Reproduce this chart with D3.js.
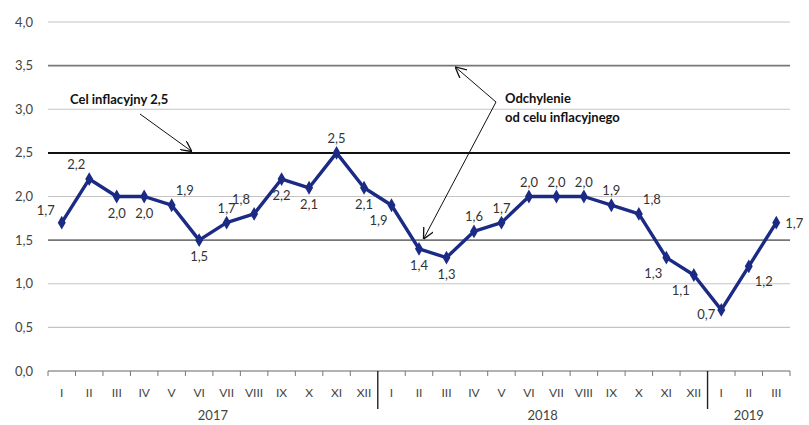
<!DOCTYPE html>
<html>
<head>
<meta charset="utf-8">
<script src="https://cdn.jsdelivr.net/npm/d3@7"></script>
<style>
  body { margin: 0; background: #fff; }
  text { font-family: Lato, "Open Sans", sans-serif; }
</style>
</head>
<body>
<script>
var months = ["I", "II", "III", "IV", "V", "VI", "VII", "VIII", "IX", "X", "XI", "XII",
              "I", "II", "III", "IV", "V", "VI", "VII", "VIII", "IX", "X", "XI", "XII",
              "I", "II", "III"];
var years = ["2017", "2018", "2019"];
var yearOf = [0,0,0,0,0,0,0,0,0,0,0,0, 1,1,1,1,1,1,1,1,1,1,1,1, 2,2,2];
var cpi = [1.7, 2.2, 2.0, 2.0, 1.9, 1.5, 1.7, 1.8, 2.2, 2.1, 2.5, 2.1,
           1.9, 1.4, 1.3, 1.6, 1.7, 2.0, 2.0, 2.0, 1.9, 1.8, 1.3, 1.1,
           0.7, 1.2, 1.7];
var yTicks = [0, 0.5, 1, 1.5, 2, 2.5, 3, 3.5, 4];
// where each value label sits relative to its point
var labelPos = ["l", "al", "b", "b", "ar", "b", "a", "al", "b", "b", "a", "b",
                "bl", "b", "b", "a", "a", "a", "a", "a", "a", "ar", "bl", "bl",
                "lb", "br", "r"];

var w = 809, h = 425;
var margin = {top: 22, right: 19, bottom: 54, left: 48};

var svg = d3.select("body").append("svg")
    .attr("width", w)
    .attr("height", h);

var idx = d3.range(cpi.length);
var x = d3.scaleBand()
    .domain(idx)
    .range([margin.left, w - margin.right]);
var y = d3.scaleLinear()
    .domain([0, 4])
    .range([h - margin.bottom, margin.top]);

var fmt = function (d) { return d3.format(".1f")(d).replace(".", ","); };

// grid
svg.selectAll("line.grid")
    .data(yTicks.filter(function (d) { return d > 0; }))
    .enter()
    .append("line")
    .attr("class", "grid")
    .attr("x1", margin.left)
    .attr("x2", w - margin.right)
    .attr("y1", function (d) { return y(d); })
    .attr("y2", function (d) { return y(d); })
    .attr("stroke", function (d) {
        if (d === 2.5) return "#111";
        if (d === 3.5 || d === 1.5) return "#777";
        return "#c4c4c4";
    })
    .attr("stroke-width", function (d) {
        if (d === 2.5) return 2;
        if (d === 3.5 || d === 1.5) return 1.6;
        return 1.2;
    });

// y labels
svg.selectAll("text.ylab")
    .data(yTicks)
    .enter()
    .append("text")
    .attr("class", "ylab")
    .attr("x", 33)
    .attr("y", function (d) { return y(d) + 4.5; })
    .attr("text-anchor", "end")
    .attr("font-size", "13px")
    .attr("fill", "#444")
    .text(fmt);

// x axis
var xAxis = svg.append("g")
    .attr("transform", "translate(0," + y(0) + ")");
xAxis.append("line")
    .attr("x1", margin.left)
    .attr("x2", w - margin.right)
    .attr("stroke", "#666")
    .attr("stroke-width", 1.2);
var isBreak = function (i) { return i > 0 && i < cpi.length && yearOf[i] !== yearOf[i - 1]; };
xAxis.selectAll("line.tick")
    .data(d3.range(cpi.length + 1))
    .enter()
    .append("line")
    .attr("x1", function (i) { return margin.left + i * x.step(); })
    .attr("x2", function (i) { return margin.left + i * x.step(); })
    .attr("y1", 0)
    .attr("y2", function (i) { return isBreak(i) ? 38 : 5; })
    .attr("stroke", function (i) { return isBreak(i) ? "#222" : "#777"; })
    .attr("stroke-width", function (i) { return isBreak(i) ? 1.4 : 1; });

xAxis.selectAll("text.month")
    .data(idx)
    .enter()
    .append("text")
    .attr("x", function (i) { return x(i) + x.bandwidth() / 2; })
    .attr("y", 26)
    .attr("text-anchor", "middle")
    .attr("font-size", "12px")
    .attr("fill", "#444")
    .text(function (i) { return months[i]; });

xAxis.selectAll("text.year")
    .data(years)
    .enter()
    .append("text")
    .attr("x", function (d, k) {
        var members = idx.filter(function (i) { return yearOf[i] === k; });
        return (x(members[0]) + x(members[members.length - 1]) + x.bandwidth()) / 2;
    })
    .attr("y", 49)
    .attr("text-anchor", "middle")
    .attr("font-size", "13px")
    .attr("fill", "#444")
    .text(function (d) { return d; });

// series
var cx = function (i) { return x(i) + x.bandwidth() / 2; };
var line = d3.line()
    .x(function (d, i) { return cx(i); })
    .y(function (d) { return y(d); });

svg.append("path")
    .datum(cpi)
    .attr("d", line)
    .attr("fill", "none")
    .attr("stroke", "#1b2a84")
    .attr("stroke-width", 3.4)
    .attr("stroke-linejoin", "round");

svg.selectAll("path.mark")
    .data(cpi)
    .enter()
    .append("path")
    .attr("d", d3.symbol().type(d3.symbolDiamond).size(55))
    .attr("transform", function (d, i) { return "translate(" + cx(i) + "," + y(d) + ")"; })
    .attr("fill", "#1b2a84");

var offs = {
    a: [0, -10, "middle"], b: [0, 21, "middle"],
    l: [-7, -8, "end"], r: [9, 5, "start"], lb: [-6, 9, "end"],
    al: [-4, -10, "end"], ar: [4, -10, "start"],
    bl: [-4, 20, "end"], br: [6, 20, "start"]
};
svg.selectAll("text.val")
    .data(cpi)
    .enter()
    .append("text")
    .attr("x", function (d, i) { return cx(i) + offs[labelPos[i]][0]; })
    .attr("y", function (d, i) { return y(d) + offs[labelPos[i]][1]; })
    .attr("text-anchor", function (d, i) { return offs[labelPos[i]][2]; })
    .attr("font-size", "13px")
    .attr("fill", "#333")
    .text(fmt);

// annotations
var defs = svg.append("defs");
defs.append("marker")
    .attr("id", "arr")
    .attr("viewBox", "0 0 10 10")
    .attr("refX", 9).attr("refY", 5)
    .attr("markerWidth", 11).attr("markerHeight", 11)
    .attr("markerUnits", "userSpaceOnUse")
    .attr("orient", "auto")
    .append("path")
    .attr("d", "M0,0 L10,5 L0,10")
    .attr("fill", "none")
    .attr("stroke", "#111")
    .attr("stroke-width", 1.2);

svg.append("text")
    .attr("x", 70).attr("y", 104)
    .attr("font-size", "13px")
    .attr("font-weight", "bold")
    .attr("fill", "#111")
    .text("Cel inflacyjny 2,5");
svg.append("line")
    .attr("x1", 140).attr("y1", 114)
    .attr("x2", 191).attr("y2", y(2.5) - 2)
    .attr("stroke", "#111").attr("stroke-width", 1)
    .attr("marker-end", "url(#arr)");

svg.append("text")
    .attr("x", 505).attr("y", 103)
    .attr("font-size", "13px")
    .attr("font-weight", "bold")
    .attr("fill", "#111")
    .text("Odchylenie");
svg.append("text")
    .attr("x", 505).attr("y", 122)
    .attr("font-size", "13px")
    .attr("font-weight", "bold")
    .attr("fill", "#111")
    .text("od celu inflacyjnego");
svg.append("line")
    .attr("x1", 496).attr("y1", 102)
    .attr("x2", 456).attr("y2", y(3.5) + 2)
    .attr("stroke", "#111").attr("stroke-width", 1)
    .attr("marker-end", "url(#arr)");
svg.append("line")
    .attr("x1", 496).attr("y1", 102)
    .attr("x2", 424).attr("y2", y(1.5) - 2)
    .attr("stroke", "#111").attr("stroke-width", 1)
    .attr("marker-end", "url(#arr)");
</script>
</body>
</html>
